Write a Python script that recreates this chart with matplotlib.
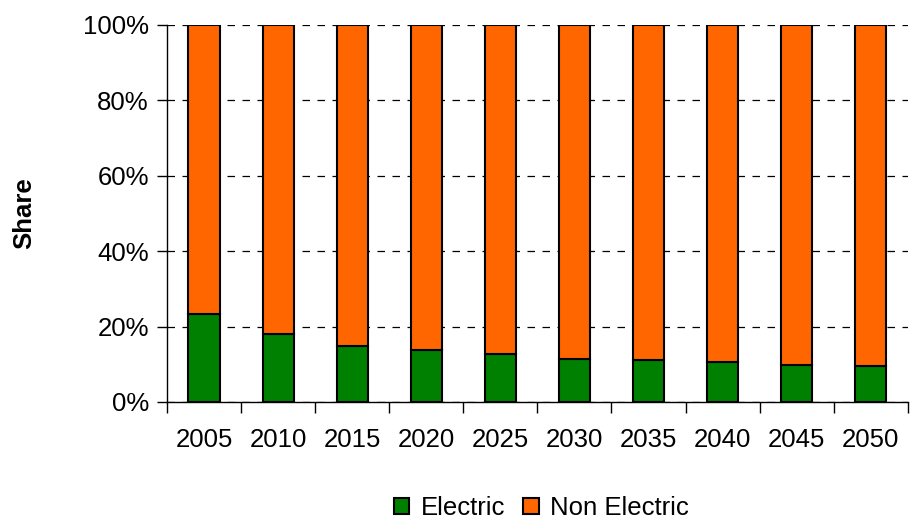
import matplotlib.pyplot as plt
import numpy as np
from matplotlib.ticker import FixedLocator, PercentFormatter

plt.rcParams['font.family'] = ['Liberation Sans', 'DejaVu Sans']

years = ['2005', '2010', '2015', '2020', '2025', '2030', '2035', '2040', '2045', '2050']
electric = [23.3, 18.0, 14.8, 13.7, 12.6, 11.5, 11.0, 10.5, 9.9, 9.4]
non_electric = [100 - e for e in electric]

fig = plt.figure(figsize=(9.1, 5.2), dpi=100)
ax = fig.add_axes([0.1835, 0.227, 0.814, 0.7255])

x = np.arange(len(years))
w = 0.42
ax.bar(x, electric, w, color='#008000', edgecolor='black', linewidth=1.5, label='Electric', zorder=3)
ax.bar(x, non_electric, w, bottom=electric, color='#FF6600', edgecolor='black', linewidth=1.5,
       label='Non Electric', zorder=3)

ax.set_xlim(-0.5, len(years) - 0.5)
ax.set_ylim(0, 100)
ax.set_yticks(np.arange(0, 101, 20))
ax.yaxis.set_major_formatter(PercentFormatter(decimals=0))
ax.yaxis.grid(True, linestyle=(0, (6, 6)), color='black', linewidth=0.9, zorder=0)

ax.set_xticks(x)
ax.set_xticklabels(years)
ax.xaxis.set_minor_locator(FixedLocator(np.arange(-0.5, len(years), 1)))
ax.tick_params(axis='x', which='major', length=0, pad=19, labelsize=18.5)
ax.tick_params(axis='x', which='minor', length=8, width=1, direction='out')
ax.tick_params(axis='y', length=7, width=1, labelsize=18.5, pad=6)

for s in ['top', 'right']:
    ax.spines[s].set_visible(False)
ax.spines['left'].set_linewidth(1)
ax.spines['bottom'].set_linewidth(1)

ax.set_ylabel('Share', fontsize=18.5, fontweight='bold', labelpad=34)

fig.legend(loc='center', bbox_to_anchor=(0.595, 0.023), ncol=2, frameon=False, fontsize=18.5,
           handlelength=0.6, handleheight=0.6, handletextpad=0.45, columnspacing=0.7)

fig.savefig('out.png', dpi=100)
